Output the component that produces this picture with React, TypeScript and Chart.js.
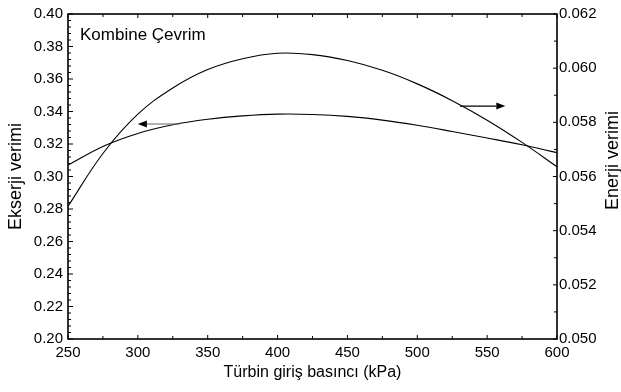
import React, { useEffect, useRef } from "react";
import { Chart, registerables } from "chart.js";

Chart.register(...registerables);

// ---- data ----
const pressures = [250, 275, 300, 325, 350, 375, 400, 425, 450, 475, 500, 525, 550, 575, 600];
const exergyEff = [0.307, 0.3185, 0.3265, 0.3318, 0.3352, 0.3373, 0.3384, 0.3382, 0.337, 0.3347, 0.3315, 0.3277, 0.3237, 0.3195, 0.3147];
const energyEff = [0.0549, 0.05685, 0.0583, 0.05927, 0.05995, 0.06035, 0.06055, 0.0605, 0.06028, 0.05992, 0.05942, 0.0588, 0.05808, 0.05726, 0.05636];

// arrows in data units: [x0, y0, x1, y1]
const exergyArrow = [330, 0.3323, 300, 0.3323];
const energyArrow = [530.6, 0.0586, 563, 0.0586];

const xTitle = "Türbin giriş basıncı (kPa)";
const yTitle = "Ekserji verimi";
const y1Title = "Enerji verimi";
const innerLabel = "Kombine Çevrim";

const FONT = '"Liberation Sans", Arial, sans-serif';

function drawArrow(ctx: CanvasRenderingContext2D, x0: number, y0: number, x1: number, y1: number, lineColor: string) {
  const ang = Math.atan2(y1 - y0, x1 - x0);
  const hl = 9, hw = 3.5;
  const bx = x1 - hl * Math.cos(ang), by = y1 - hl * Math.sin(ang);
  ctx.strokeStyle = lineColor;
  ctx.lineWidth = 1.2;
  ctx.beginPath();
  ctx.moveTo(x0, y0);
  ctx.lineTo(bx, by);
  ctx.stroke();
  ctx.fillStyle = "#000";
  ctx.beginPath();
  ctx.moveTo(x1, y1);
  ctx.lineTo(bx + hw * Math.sin(ang), by - hw * Math.cos(ang));
  ctx.lineTo(bx - hw * Math.sin(ang), by + hw * Math.cos(ang));
  ctx.closePath();
  ctx.fill();
}

const overlay = {
  id: "overlay",
  afterDraw(chart: any) {
    const { ctx, chartArea: ca, scales } = chart;
    const sx = scales.x, sy = scales.y, sy1 = scales.y1;
    ctx.save();
    // frame
    ctx.strokeStyle = "#000";
    ctx.lineWidth = 1.6;
    ctx.strokeRect(ca.left, ca.top, ca.right - ca.left, ca.bottom - ca.top);
    ctx.lineWidth = 1;
    ctx.beginPath();
    // left axis ticks
    for (let i = 0; i <= 50; i++) {
      const v = sy.min + (i * (sy.max - sy.min)) / 50;
      const p = sy.getPixelForValue(v);
      const len = i % 5 === 0 ? 5 : 3;
      ctx.moveTo(ca.left, p);
      ctx.lineTo(ca.left + len, p);
    }
    // right axis ticks
    for (let i = 0; i <= 12; i++) {
      const v = sy1.min + (i * (sy1.max - sy1.min)) / 12;
      const p = sy1.getPixelForValue(v);
      const len = i % 2 === 0 ? 4 : 3;
      ctx.moveTo(ca.right, p);
      ctx.lineTo(ca.right - len, p);
    }
    // top / bottom ticks
    for (let i = 0; i <= 14; i++) {
      const v = sx.min + (i * (sx.max - sx.min)) / 14;
      const p = sx.getPixelForValue(v);
      const len = i % 2 === 0 ? 4 : 3;
      ctx.moveTo(p, ca.bottom);
      ctx.lineTo(p, ca.bottom - len);
      ctx.moveTo(p, ca.top);
      ctx.lineTo(p, ca.top + len);
    }
    ctx.stroke();

    // arrows
    drawArrow(ctx, sx.getPixelForValue(exergyArrow[0]), sy.getPixelForValue(exergyArrow[1]), sx.getPixelForValue(exergyArrow[2]), sy.getPixelForValue(exergyArrow[3]), "#666");
    drawArrow(ctx, sx.getPixelForValue(energyArrow[0]), sy1.getPixelForValue(energyArrow[1]), sx.getPixelForValue(energyArrow[2]), sy1.getPixelForValue(energyArrow[3]), "#000");

    // texts
    ctx.fillStyle = "#000";
    ctx.font = "17px " + FONT;
    ctx.textAlign = "left";
    ctx.textBaseline = "alphabetic";
    ctx.fillText(innerLabel, ca.left + 12, ca.top + 26);

    const cy = (ca.top + ca.bottom) / 2;
    ctx.textAlign = "center";
    ctx.textBaseline = "middle";
    ctx.font = "16px " + FONT;
    ctx.fillText(xTitle, (ca.left + ca.right) / 2, 373);

    ctx.font = "18px " + FONT;
    ctx.save();
    ctx.translate(16, cy);
    ctx.rotate(-Math.PI / 2);
    ctx.fillText(yTitle, 0, 0);
    ctx.restore();

    ctx.save();
    ctx.translate(613, cy - 16);
    ctx.rotate(-Math.PI / 2);
    ctx.fillText(y1Title, 0, 0);
    ctx.restore();

    ctx.restore();
  },
};

export default function App() {
  const ref = useRef<HTMLCanvasElement>(null);
  useEffect(() => {
    document.body.style.margin = "0";
    const tickFont = { family: FONT, size: 15 };
    const chart = new Chart(ref.current as HTMLCanvasElement, {
      type: "line",
      data: {
        datasets: [
          {
            label: "Ekserji",
            data: pressures.map((p, i) => ({ x: p, y: exergyEff[i] })),
            yAxisID: "y",
            borderColor: "#000",
            borderWidth: 1.1,
            pointRadius: 0,
            tension: 0.4,
            fill: false,
          },
          {
            label: "Enerji",
            data: pressures.map((p, i) => ({ x: p, y: energyEff[i] })),
            yAxisID: "y1",
            borderColor: "#000",
            borderWidth: 1.1,
            pointRadius: 0,
            tension: 0.4,
            fill: false,
          },
        ],
      },
      options: {
        animation: false,
        responsive: false,
        devicePixelRatio: 1,
        layout: { padding: { top: 14, left: 0, right: 0, bottom: 0 } },
        plugins: { legend: { display: false }, tooltip: { enabled: false } },
        scales: {
          x: {
            type: "linear",
            min: 250,
            max: 600,
            ticks: { stepSize: 50, font: tickFont, color: "#000", padding: 5, maxRotation: 0 },
            grid: { display: false, drawTicks: false },
            border: { display: false },
            afterFit: (s: any) => { s.height = 53; },
          },
          y: {
            position: "left",
            min: 0.2,
            max: 0.4,
            ticks: { stepSize: 0.02, font: tickFont, color: "#000", padding: 5, callback: (v: any) => Number(v).toFixed(2) },
            grid: { display: false, drawTicks: false },
            border: { display: false },
            afterFit: (s: any) => { s.width = 68; },
          },
          y1: {
            position: "right",
            min: 0.05,
            max: 0.062,
            ticks: { stepSize: 0.002, font: tickFont, color: "#000", padding: 2, callback: (v: any) => Number(v).toFixed(3) },
            grid: { display: false, drawTicks: false },
            border: { display: false },
            afterFit: (s: any) => { s.width = 64; },
          },
        },
      },
      plugins: [overlay],
    } as any);
    return () => chart.destroy();
  }, []);
  return (
    <div style={{ position: "absolute", left: 0, top: 0, width: 621, height: 392, background: "#fff" }}>
      <canvas ref={ref} width={621} height={392} />
    </div>
  );
}
